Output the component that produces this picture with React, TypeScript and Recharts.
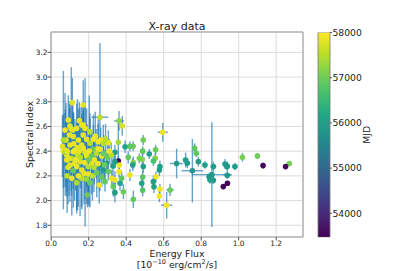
import React from 'react';
import {
  ScatterChart, Scatter, XAxis, YAxis, CartesianGrid, ErrorBar, ReferenceArea,
  BarChart, Bar,
} from 'recharts';

// ---- data ----
const flux = [
  1.27, 1.25, 1.13, 1.10, 1.02, 0.98, 0.94, 0.918, 0.939, 0.939,
  0.927, 0.936, 0.857, 0.865, 0.865, 0.847, 0.842, 0.82, 0.785, 0.774,
  0.765, 0.753, 0.726, 0.717, 0.669, 0.634, 0.616, 0.595, 0.577, 0.58,
  0.548, 0.559, 0.58, 0.577, 0.557, 0.555, 0.545, 0.545, 0.523, 0.491,
  0.488, 0.486, 0.491, 0.488, 0.483, 0.488, 0.47, 0.438, 0.438, 0.435,
  0.437, 0.42, 0.42, 0.411, 0.394, 0.385, 0.376, 0.379, 0.362, 0.358,
  0.358, 0.363, 0.362, 0.367, 0.34, 0.34, 0.34, 0.34, 0.331, 0.323,
  0.305, 0.305, 0.287, 0.278, 0.27, 0.264, 0.26, 0.26, 0.296, 0.26,
  0.113, 0.171, 0.091, 0.15, 0.163, 0.171, 0.10, 0.074, 0.115, 0.136,
  0.18, 0.207, 0.097, 0.118, 0.171, 0.079, 0.145, 0.189, 0.225, 0.065,
  0.10, 0.163, 0.207, 0.251, 0.278, 0.074, 0.127, 0.171, 0.225, 0.083,
  0.107, 0.14, 0.19, 0.24, 0.065, 0.075, 0.086, 0.118, 0.149, 0.181,
  0.203, 0.109, 0.189, 0.216, 0.27, 0.083, 0.154, 0.18, 0.216, 0.10,
  0.136, 0.198, 0.118, 0.163, 0.198, 0.243, 0.136, 0.189, 0.207, 0.256,
  0.193, 0.163, 0.125, 0.09, 0.06, 0.23, 0.25, 0.28, 0.12, 0.155,
  0.175, 0.145, 0.228, 0.235, 0.30, 0.32, 0.33, 0.31, 0.285, 0.29,
  0.085, 0.11, 0.13, 0.095, 0.14, 0.20, 0.22, 0.25,
];

const spectralIndex = [
  2.30, 2.275, 2.283, 2.36, 2.35, 2.275, 2.14, 2.113, 2.205, 2.275,
  2.296, 2.283, 2.21, 2.275, 2.165, 2.167, 2.193, 2.288, 2.315, 2.383,
  2.423, 2.242, 2.302, 2.329, 2.30, 2.086, 1.962, 2.553, 2.037, 2.094,
  2.112, 2.193, 2.275, 2.248, 2.412, 2.342, 2.153, 2.32, 2.377, 2.49,
  2.40, 2.334, 2.275, 2.19, 2.14, 2.083, 2.342, 2.01, 2.307, 2.288,
  2.44, 2.44, 2.207, 2.35, 2.436, 2.072, 2.18, 2.604, 2.645, 2.472,
  2.32, 2.288, 2.234, 2.14, 2.315, 2.39, 2.167, 2.064, 2.113, 2.18,
  2.234, 2.469, 2.153, 2.248, 2.19, 2.49, 2.415, 2.675, 2.302, 2.288,
  2.793, 2.774, 2.653, 2.647, 2.612, 2.612, 2.604, 2.572, 2.572, 2.585,
  2.585, 2.558, 2.531, 2.518, 2.531, 2.49, 2.49, 2.496, 2.496, 2.49,
  2.45, 2.45, 2.464, 2.477, 2.464, 2.41, 2.41, 2.423, 2.415, 2.37,
  2.58, 2.37, 2.37, 2.38, 2.40, 2.39, 2.40, 2.395, 2.40, 2.39,
  2.40, 2.342, 2.361, 2.361, 2.361, 2.329, 2.315, 2.307, 2.302, 2.288,
  2.275, 2.275, 2.242, 2.248, 2.215, 2.226, 2.145, 2.172, 2.145, 2.126,
  2.045, 2.18, 2.30, 2.27, 2.44, 2.33, 2.42, 2.38, 2.46, 2.35,
  2.22, 2.20, 2.27, 2.52, 2.35, 2.37, 2.28, 2.40, 2.29, 2.50,
  2.20, 2.18, 2.33, 2.34, 2.43, 2.33, 2.20, 2.30,
];

const fluxErr = [
  0.010, 0.008, 0.008, 0.012, 0.012, 0.012, 0.006, 0.006, 0.020, 0.010,
  0.008, 0.008, 0.107, 0.015, 0.008, 0.010, 0.012, 0.012, 0.012, 0.010,
  0.008, 0.058, 0.012, 0.015, 0.036, 0.020, 0.030, 0.027, 0.008, 0.010,
  0.010, 0.010, 0.010, 0.010, 0.008, 0.008, 0.008, 0.008, 0.008, 0.008,
  0.008, 0.008, 0.008, 0.008, 0.008, 0.008, 0.008, 0.010, 0.008, 0.008,
  0.010, 0.010, 0.008, 0.008, 0.008, 0.008, 0.008, 0.008, 0.027, 0.008,
  0.006, 0.008, 0.008, 0.008, 0.008, 0.008, 0.008, 0.008, 0.008, 0.008,
  0.008, 0.008, 0.008, 0.008, 0.008, 0.008, 0.008, 0.045, 0.008, 0.008,
  0.006, 0.006, 0.006, 0.006, 0.006, 0.006, 0.006, 0.006, 0.006, 0.006,
  0.006, 0.006, 0.006, 0.006, 0.006, 0.006, 0.006, 0.006, 0.006, 0.006,
  0.006, 0.006, 0.006, 0.006, 0.006, 0.006, 0.006, 0.006, 0.006, 0.006,
  0.006, 0.006, 0.006, 0.006, 0.006, 0.006, 0.006, 0.006, 0.006, 0.006,
  0.006, 0.006, 0.006, 0.006, 0.006, 0.006, 0.006, 0.006, 0.006, 0.006,
  0.006, 0.006, 0.006, 0.006, 0.006, 0.006, 0.006, 0.006, 0.006, 0.006,
  0.006, 0.006, 0.006, 0.006, 0.006, 0.006, 0.006, 0.006, 0.006, 0.006,
  0.006, 0.006, 0.006, 0.006, 0.006, 0.006, 0.006, 0.006, 0.006, 0.006,
  0.006, 0.006, 0.006, 0.006, 0.006, 0.006, 0.006, 0.006,
];

const indexErr = [
  0.020, 0.020, 0.025, 0.025, 0.035, 0.030, 0.020, 0.020, 0.030, 0.040,
  0.040, 0.030, 0.425, 0.040, 0.030, 0.030, 0.030, 0.030, 0.040, 0.030,
  0.040, 0.257, 0.040, 0.060, 0.120, 0.050, 0.107, 0.077, 0.050, 0.040,
  0.050, 0.040, 0.050, 0.050, 0.040, 0.040, 0.050, 0.040, 0.040, 0.040,
  0.040, 0.040, 0.050, 0.050, 0.050, 0.050, 0.040, 0.070, 0.050, 0.050,
  0.040, 0.040, 0.050, 0.050, 0.050, 0.060, 0.060, 0.080, 0.080, 0.170,
  0.040, 0.050, 0.050, 0.060, 0.050, 0.060, 0.070, 0.080, 0.080, 0.070,
  0.070, 0.100, 0.080, 0.080, 0.080, 0.100, 0.100, 0.600, 0.080, 0.080,
  0.20, 0.20, 0.20, 0.15, 0.15, 0.15, 0.20, 0.30, 0.20, 0.20,
  0.20, 0.15, 0.25, 0.20, 0.20, 0.30, 0.25, 0.25, 0.20, 0.56,
  0.30, 0.25, 0.20, 0.20, 0.15, 0.30, 0.25, 0.25, 0.20, 0.30,
  0.50, 0.45, 0.25, 0.20, 0.30, 0.35, 0.25, 0.30, 0.25, 0.60,
  0.45, 0.30, 0.25, 0.20, 0.15, 0.30, 0.44, 0.30, 0.25, 0.30,
  0.35, 0.25, 0.30, 0.30, 0.25, 0.20, 0.25, 0.20, 0.20, 0.15,
  0.10, 0.25, 0.30, 0.30, 0.25, 0.20, 0.20, 0.15, 0.25, 0.25,
  0.25, 0.25, 0.20, 0.20, 0.12, 0.10, 0.10, 0.10, 0.12, 0.12,
  0.30, 0.30, 0.25, 0.30, 0.25, 0.20, 0.20, 0.20,
];

const mjd = [
  57050, 53520, 53510, 57000, 57050, 55950, 53530, 53520, 55900, 55950,
  56000, 55900, 55850, 56000, 55950, 56050, 55900, 56000, 55950, 56900,
  56850, 55800, 56000, 55950, 55900, 56950, 57900, 57900, 57950, 57900,
  56000, 57900, 56000, 55950, 56950, 57200, 56000, 56700, 56000, 57000,
  56900, 57200, 56000, 56800, 56100, 56800, 57100, 56900, 57100, 56000,
  57000, 56850, 57900, 56900, 56100, 56950, 56900, 57750, 57200, 57400,
  53480, 57900, 57900, 56100, 56000, 56000, 57900, 56000, 56900, 57900,
  56900, 57800, 56900, 56000, 56900, 57900, 57900, 57500, 56000, 56000,
  57800, 57800, 57850, 57850, 57800, 57900, 57850, 57900, 57800, 57850,
  57900, 57500, 57900, 57800, 57850, 57800, 57900, 57850, 57900, 57450,
  57850, 57800, 57500, 57900, 57500, 57900, 57850, 57900, 56950, 57850,
  57800, 57600, 57900, 57500, 57900, 57400, 57850, 57900, 57850, 57800,
  57900, 57450, 57850, 56900, 57900, 57850, 57800, 57900, 57850, 57800,
  57900, 57500, 56950, 57850, 57900, 56950, 57400, 57300, 56950, 57900,
  56950, 57500, 57850, 57800, 57800, 57900, 57850, 56950, 57900, 57500,
  57850, 57900, 57500, 57900, 56900, 57500, 56000, 57900, 56950, 57500,
  57500, 57850, 57900, 57850, 57800, 56950, 57500, 57900,
];

const xTicks = [0, 0.2, 0.4, 0.6, 0.8, 1.0, 1.2];
const yTicks = [1.8, 2.0, 2.2, 2.4, 2.6, 2.8, 3.0, 3.2];
const cbTicks = [54000, 55000, 56000, 57000, 58000];
const cbRange = [53470, 58000];

// ---- helpers ----
const VIRIDIS = ['#440154', '#482475', '#414487', '#355f8d', '#2a788e', '#21918c',
  '#22a884', '#44bf70', '#7ad151', '#bddf26', '#fde725'];

function hexToRgb(h: string) {
  return [parseInt(h.slice(1, 3), 16), parseInt(h.slice(3, 5), 16), parseInt(h.slice(5, 7), 16)];
}
function viridis(v: number) {
  let t = (v - cbRange[0]) / (cbRange[1] - cbRange[0]);
  t = Math.max(0, Math.min(1, t));
  const s = t * (VIRIDIS.length - 1);
  const i = Math.min(VIRIDIS.length - 2, Math.floor(s));
  const f = s - i;
  const a = hexToRgb(VIRIDIS[i]);
  const b = hexToRgb(VIRIDIS[i + 1]);
  const c = a.map((av, k) => Math.round(av + (b[k] - av) * f));
  return `rgb(${c[0]},${c[1]},${c[2]})`;
}

const n = Math.min(flux.length, spectralIndex.length, fluxErr.length, indexErr.length, mjd.length);
const points = Array.from({ length: n }, (_, i) => ({
  x: flux[i], y: spectralIndex[i], xe: fluxErr[i], ye: indexErr[i], m: mjd[i],
}));
const cbData = [{ name: 'MJD', range: cbRange }];

const FONT = 'DejaVu Sans, sans-serif';
const X_DOMAIN: [number, number] = [-0.001, 1.343];
const Y_DOMAIN: [number, number] = [1.705, 3.365];
const ERR = 'rgba(31,119,180,0.68)';

const renderNothing = () => <g />;
const renderDot = (props: any) => {
  const m = props.payload ? props.payload.m : 57800;
  return <circle cx={props.cx} cy={props.cy} r={2.8} fill={viridis(m)} />;
};

const xLabel = (p: any) => {
  const vb = p.viewBox || { x: 51, y: 237, width: 252 };
  const cx = vb.x + vb.width / 2;
  return (
    <g>
      <text x={cx} y={vb.y + 19.5} textAnchor="middle" fontFamily={FONT} fontSize={9.3} fill="#222">Energy Flux</text>
      <text x={cx} y={vb.y + 31} textAnchor="middle" fontFamily={FONT} fontSize={9.3} fill="#222">
        [10<tspan dy={-3.8} fontSize={6.5}>−10</tspan>
        <tspan dy={3.8}> erg/cm</tspan>
        <tspan dy={-3.8} fontSize={6.5}>2</tspan>
        <tspan dy={3.8}>/s]</tspan>
      </text>
    </g>
  );
};

const yLabel = (p: any) => {
  const vb = p.viewBox || { x: 0, y: 32, width: 51, height: 205 };
  const x = 29;
  const y = vb.y + vb.height / 2;
  return (
    <text x={x} y={y} transform={`rotate(-90, ${x}, ${y})`} textAnchor="middle"
      dominantBaseline="central" fontFamily={FONT} fontSize={9.3} fill="#222">Spectral Index</text>
  );
};

const cbLabel = (p: any) => {
  const vb = p.viewBox || { x: 330, y: 32.5, width: 50, height: 205 };
  const x = 367;
  const y = vb.y + vb.height / 2;
  return (
    <text x={x} y={y} transform={`rotate(-90, ${x}, ${y})`} textAnchor="middle"
      dominantBaseline="central" fontFamily={FONT} fontSize={9.3} fill="#222">MJD</text>
  );
};

const tickStyle = { fontFamily: FONT, fontSize: 7.4, fill: '#222' };

export default function App() {
  return (
    <div style={{ position: 'absolute', left: 0, top: 0, width: 407, height: 271, background: '#fff', overflow: 'hidden' }}>
      <div style={{ position: 'absolute', left: 0, top: 0 }}>
        <ScatterChart width={407} height={271} margin={{ top: 32, right: 104, bottom: 0, left: 0 }}>
          <CartesianGrid stroke="#dcdcdc" strokeWidth={1} />
          <XAxis type="number" dataKey="x" domain={X_DOMAIN} ticks={xTicks} allowDataOverflow
            tickFormatter={(v: number) => v.toFixed(1)} height={34} tickSize={3.5} tickMargin={0}
            tick={tickStyle} stroke="#555" axisLine={false} label={xLabel} interval={0} />
          <YAxis type="number" dataKey="y" domain={Y_DOMAIN} ticks={yTicks} allowDataOverflow
            tickFormatter={(v: number) => v.toFixed(1)} width={51} tickSize={3.5} tickMargin={0}
            tick={tickStyle} stroke="#555" axisLine={false} label={yLabel} interval={0} />
          <Scatter data={points} shape={renderNothing} isAnimationActive={false}>
            <ErrorBar dataKey="ye" direction="y" width={0} stroke={ERR} strokeWidth={1.4} />
            <ErrorBar dataKey="xe" direction="x" width={0} stroke={ERR} strokeWidth={1.4} />
          </Scatter>
          <Scatter data={points} shape={renderDot} isAnimationActive={false} />
          <ReferenceArea x1={X_DOMAIN[0]} x2={X_DOMAIN[1]} y1={Y_DOMAIN[0]} y2={Y_DOMAIN[1]}
            fill="none" stroke="#999" strokeWidth={1} fillOpacity={0} />
        </ScatterChart>
      </div>
      <div style={{ position: 'absolute', left: 0, top: 0 }}>
        <BarChart width={407} height={271} data={cbData} barCategoryGap={0}
          margin={{ top: 32.5, right: 27, bottom: 33.7, left: 318 }}>
          <defs>
            <linearGradient id="viridisGrad" x1="0" y1="1" x2="0" y2="0">
              {VIRIDIS.map((c, i) => (
                <stop key={i} offset={`${(i / (VIRIDIS.length - 1)) * 100}%`} stopColor={c} />
              ))}
            </linearGradient>
          </defs>
          <XAxis dataKey="name" hide />
          <YAxis orientation="right" type="number" domain={cbRange} ticks={cbTicks} allowDataOverflow
            width={50} tickSize={2} tickMargin={0.5} axisLine={false} stroke="#555" interval={0}
            tick={{ fontFamily: FONT, fontSize: 9.2, fill: '#222' }} label={cbLabel} />
          <Bar dataKey="range" fill="url(#viridisGrad)" stroke="#777" strokeWidth={0.8} isAnimationActive={false} />
        </BarChart>
      </div>
      <svg width={407} height={271} style={{ position: 'absolute', left: 0, top: 0, pointerEvents: 'none' }}>
        <text x={177} y={30} textAnchor="middle" fontFamily={FONT} fontSize={11} fill="#222">X-ray data</text>
      </svg>
    </div>
  );
}
